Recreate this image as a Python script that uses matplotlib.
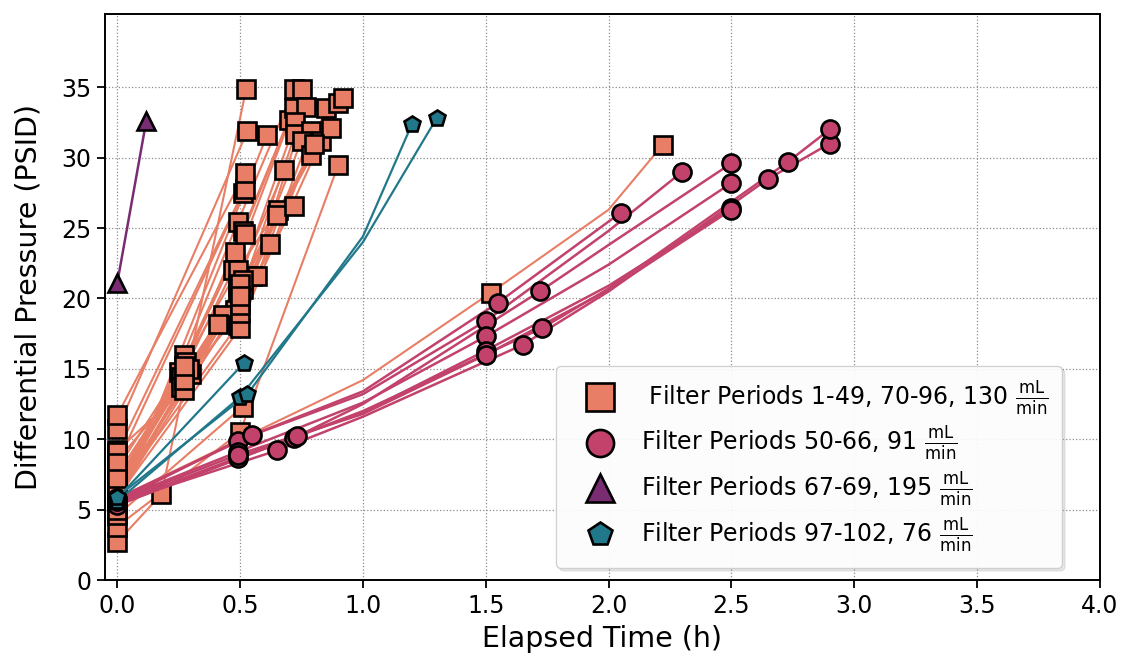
import matplotlib
matplotlib.use("Agg")
import matplotlib.pyplot as plt
from matplotlib.lines import Line2D

# ---- Filter periods 1-49, 70-96 (130 mL/min): elapsed time (h) and dP (PSID)
orange_t = [
    [0, 0.18, 0.525], [0, 0.53], [0, 0.5, 0.9], [0, 0.51],
    [0, 0.27, 0.49, 0.72], [0, 0.28, 0.51, 0.75], [0, 0.25, 0.48, 0.70],
    [0, 0.26, 0.47, 0.72], [0, 0.30, 0.55, 0.77], [0, 0.26, 0.49, 0.725],
    [0, 0.27, 0.51, 0.725], [0, 0.29, 0.57, 0.79], [0, 0.48, 0.75],
    [0, 0.43, 0.79], [0, 0.41, 0.68], [0, 0.49, 0.83], [0, 0.50, 0.85],
    [0, 0.49, 0.87], [0, 0.51, 0.90], [0, 0.49, 0.92], [0, 0.62],
    [0, 0.27, 0.5, 0.655], [0, 0.5, 0.65], [0, 0.51], [0, 0.52], [0, 0.52],
    [0, 0.61], [0, 0.5, 0.72], [0, 1.0, 1.52, 2.0, 2.22], [0, 0.5, 0.8],
    [0, 0.27, 0.52],
]
orange_p = [
    [2.7, 6.1, 34.9], [10.7, 31.9], [3.8, 10.5, 29.5], [4.6, 12.3],
    [6.2, 16.0, 25.4, 34.9], [7.9, 15.5, 24.8, 34.9], [5.5, 14.8, 23.3, 32.7],
    [6.7, 14.4, 22.0, 33.5], [8.5, 14.6, 21.6, 33.6], [5.9, 13.7, 20.9, 32.5],
    [9.2, 13.5, 20.7, 31.7], [6.4, 15.0, 21.6, 31.9], [5.8, 19.2, 31.2],
    [6.0, 18.8, 30.2], [5.6, 18.2, 29.1], [6.3, 18.1, 31.2], [5.9, 17.9, 33.5],
    [7.0, 22.0, 32.1], [6.8, 21.3, 33.9], [7.5, 20.5, 34.2], [6.1, 23.9],
    [7.0, 14.2, 19.0, 26.3], [6.6, 21.0, 25.9], [9.1, 27.5], [8.3, 27.8], [11.7, 28.9],
    [5.0, 31.6], [6.5, 19.5, 26.6], [5.8, 14.2, 20.4, 26.3, 30.9], [7.2, 20.2, 31.0],
    [6.0, 15.2, 24.6],
]

# ---- Filter periods 50-66 (91 mL/min)
red_t = [
    [0, 0.49, 1.0, 1.55, 2.05],
    [0, 0.55, 1.0, 1.5, 2.0, 2.30],
    [0, 0.72, 1.0, 1.72, 2.0, 2.5],
    [0, 0.49, 1.0, 1.5, 2.0, 2.5],
    [0, 0.49, 1.0, 1.5, 2.0, 2.5],
    [0, 0.65, 1.0, 1.65, 2.0, 2.65, 2.9],
    [0, 0.73, 1.0, 1.73, 2.0, 2.73, 2.9],
    [0, 0.49, 1.0, 1.5, 2.0, 2.5],
]
red_p = [
    [5.6, 9.9, 13.4, 19.7, 26.1],
    [5.8, 10.3, 13.2, 18.4, 24.8, 29.0],
    [5.5, 10.1, 12.5, 20.5, 23.8, 29.6],
    [5.7, 9.1, 12.6, 17.3, 22.4, 28.2],
    [5.4, 8.7, 11.9, 16.3, 20.9, 26.4],
    [5.5, 9.2, 11.6, 16.7, 20.5, 28.5, 31.0],
    [5.3, 10.2, 12.0, 17.9, 20.7, 29.7, 32.0],
    [5.6, 8.9, 11.8, 16.0, 20.6, 26.3],
]

# ---- Filter periods 67-69 (195 mL/min)
purple_t = [[0, 0.118]]
purple_p = [[21.1, 32.6]]

# ---- Filter periods 97-102 (76 mL/min)
teal_t = [[0, 0.515], [0, 0.5, 1.0, 1.3], [0, 0.53, 1.0, 1.2]]
teal_p = [[5.8, 15.4], [5.6, 13.0, 24.0, 32.8], [5.9, 13.2, 24.4, 32.4]]

frac = r"$\frac{\mathrm{mL}}{\mathrm{min}}$"
labels = [
    " Filter Periods 1-49, 70-96, 130 " + frac,
    "Filter Periods 50-66, 91 " + frac,
    "Filter Periods 67-69, 195 " + frac,
    "Filter Periods 97-102, 76 " + frac,
]
colors = ["#E87E65", "#C2426B", "#792C72", "#22788B"]
markers = ["s", "o", "^", "p"]
msizes = [13, 13, 13.5, 12]
lwidths = [1.5, 1.8, 1.8, 1.6]

x_ticks = [0.0, 0.5, 1.0, 1.5, 2.0, 2.5, 3.0, 3.5, 4.0]
y_ticks = [0, 5, 10, 15, 20, 25, 30, 35]

fig = plt.figure(figsize=(11.24, 6.61), dpi=100)
ax = fig.add_axes([0.0934, 0.1225, 0.8852, 0.8563])


def draw_group(ts, ps, color, marker, ms, lw, z):
    for t, p in zip(ts, ps):
        ax.plot(t, p, color=color, lw=lw, zorder=z)
    # hourly interpolated readings inside a run carry no marker
    mt, mp = [], []
    for t, p in zip(ts, ps):
        n = len(t)
        for i, (ti, pi) in enumerate(zip(t, p)):
            if 0 < i < n - 1 and float(ti).is_integer():
                continue
            mt.append(ti)
            mp.append(pi)
    ax.plot(mt, mp, ls="none", marker=marker, ms=ms, mfc=color,
            mec="black", mew=1.9, zorder=z + 0.5)


groups = [(orange_t, orange_p), (red_t, red_p), (purple_t, purple_p), (teal_t, teal_p)]
for k, (ts, ps) in enumerate(groups):
    draw_group(ts, ps, colors[k], markers[k], msizes[k], lwidths[k], 3 + k)

ax.set_xlim(-0.05, 4.0)
ax.set_ylim(0, 40.2)
ax.set_xticks(x_ticks)
ax.set_yticks(y_ticks)
ax.grid(True, ls=":", color="0.55", lw=0.9)
ax.set_axisbelow(True)
ax.tick_params(labelsize=17, width=1.3, length=6, pad=4)
for s in ax.spines.values():
    s.set_linewidth(1.4)
ax.set_xlabel("Elapsed Time (h)", fontsize=20.5, labelpad=5)
ax.set_ylabel("Differential Pressure (PSID)", fontsize=20.5, labelpad=13)

handles = [Line2D([], [], ls="none", marker=markers[k], ms=msizes[k] * 1.5,
                  mfc=colors[k], mec="black", mew=1.9) for k in range(4)]
ax.legend(handles, labels, loc="lower right", bbox_to_anchor=(0.962, 0.021),
          borderaxespad=0, fontsize=17, labelspacing=0.33, handlelength=2.6,
          handletextpad=0.45, borderpad=0.55,
          shadow={"alpha": 0.12, "ox": 2, "oy": -2}, framealpha=0.9)

fig.savefig("out.png", dpi=100)
